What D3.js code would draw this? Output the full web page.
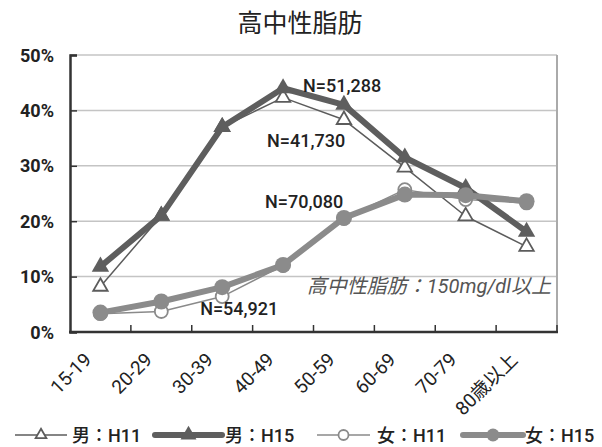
<!DOCTYPE html>
<html>
<head>
<meta charset="utf-8">
<script src="https://cdn.jsdelivr.net/npm/d3@7"></script>
<style>
  body { margin: 0; background: #fff; }
  text { font-family: Roboto, "Noto Sans CJK JP", sans-serif; fill: #222; }
</style>
</head>
<body>
<svg id="chart" width="602" height="447"></svg>
<script>
// age groups
let ages = ["15-19", "20-29", "30-39", "40-49", "50-59", "60-69", "70-79", "80歳以上"];

// percentages
let male_h11   = [8.2, 21.0, 37.0, 42.3, 38.3, 29.7, 20.9, 15.4];
let male_h15   = [11.8, 21.0, 37.0, 44.0, 41.0, 31.5, 26.0, 18.1];
let female_h11 = [3.3, 3.7, 6.4, 12.0, 20.5, 25.7, 23.9, 23.3];
let female_h15 = [3.5, 5.5, 8.1, 12.1, 20.6, 24.8, 24.7, 23.6];

let y_ticks = [0, 10, 20, 30, 40, 50];

// sample sizes, placed next to a point (value = baseline in %)
let notes = [
  {text: "N=51,288", age: "40-49", value: 43.3, dx: 20},
  {text: "N=41,730", age: "40-49", value: 33.4, dx: -16},
  {text: "N=70,080", age: "40-49", value: 22.4, dx: -18},
  {text: "N=54,921", age: "30-39", value: 3.1, dx: -22}
];

let width = 602,
    height = 447,
    margins = {top: 55, bottom: 115, left: 70, right: 45};

let svg = d3.select("#chart");

let x = d3.scaleBand()
  .domain(ages)
  .range([margins.left, width - margins.right]);

let y = d3.scaleLinear()
  .domain([0, 50])
  .range([height - margins.bottom, margins.top]);

let series = [
  {name: "男：H11", values: male_h11, shape: "tri", filled: false, stroke: "#5c5c5c", lw: 1.5},
  {name: "女：H11", values: female_h11, shape: "circle", filled: false, stroke: "#8a8a8a", lw: 1.5},
  {name: "男：H15", values: male_h15, shape: "tri", filled: true, stroke: "#5e5e5e", lw: 6},
  {name: "女：H15", values: female_h15, shape: "circle", filled: true, stroke: "#8b8b8b", lw: 6}
];

// title
svg.append("text")
  .attr("x", 300).attr("y", 32)
  .attr("text-anchor", "middle")
  .style("font-family", "'Noto Sans CJK JP'")
  .style("font-size", "25px")
  .style("font-weight", 400)
  .text("高中性脂肪");

// grid
svg.append("g")
  .selectAll("line")
  .data(y_ticks.filter(d => d > 0)).enter()
  .append("line")
  .attr("x1", x.range()[0]).attr("x2", x.range()[1])
  .attr("y1", d => y(d)).attr("y2", d => y(d))
  .attr("stroke", "#c4c4c4")
  .attr("stroke-width", 1.5);

// right border
svg.append("line")
  .attr("x1", x.range()[1]).attr("x2", x.range()[1])
  .attr("y1", y(50)).attr("y2", y(0))
  .attr("stroke", "#aaa").attr("stroke-width", 2);

// left axis
let y_axis = d3.axisRight(y)
  .tickValues(y_ticks)
  .tickSize(7)
  .tickFormat("");
svg.append("g")
  .attr("transform", `translate(${margins.left},0)`)
  .call(y_axis)
  .call(g => g.select(".domain").attr("stroke", "#333").attr("stroke-width", 2.5))
  .call(g => g.selectAll(".tick line").attr("stroke", "#333").attr("stroke-width", 1.5));

svg.append("g")
  .selectAll("text")
  .data(y_ticks).enter()
  .append("text")
  .attr("x", 54).attr("y", d => y(d) + 6.5)
  .attr("text-anchor", "end")
  .style("font-size", "18px")
  .style("font-weight", 700)
  .text(d => d + "%");

// bottom axis with ticks on the band edges
svg.append("line")
  .attr("x1", x.range()[0] - 1).attr("x2", x.range()[1] + 1)
  .attr("y1", y(0)).attr("y2", y(0))
  .attr("stroke", "#333").attr("stroke-width", 2.5);

svg.append("g")
  .selectAll("line")
  .data(ages).enter()
  .append("line")
  .attr("x1", d => x(d) + x.bandwidth()).attr("x2", d => x(d) + x.bandwidth())
  .attr("y1", y(0)).attr("y2", y(0) - 7)
  .attr("stroke", "#333").attr("stroke-width", 1.5);

svg.append("g")
  .selectAll("text")
  .data(ages).enter()
  .append("text")
  .attr("transform", d => `translate(${x(d) + x.bandwidth() / 2 - 8},361) rotate(-45)`)
  .attr("text-anchor", "end")
  .style("font-size", "19px")
  .text(d => d);

// lines
let cx = (d, i) => x(ages[i]) + x.bandwidth() / 2;
let line = d3.line()
  .x(cx)
  .y(d => y(d));

function marker(sel, s, size) {
  if (s.shape == "tri") {
    sel.append("path")
      .attr("d", d3.symbol(d3.symbolTriangle, size.tri))
      .attr("fill", s.filled ? s.stroke : "#fff")
      .attr("stroke", s.stroke)
      .attr("stroke-width", s.filled ? 0 : 1.8);
  } else {
    sel.append("circle")
      .attr("r", s.filled ? size.big : size.small)
      .attr("fill", s.filled ? s.stroke : "#fff")
      .attr("stroke", s.stroke)
      .attr("stroke-width", s.filled ? 0 : 1.8);
  }
}

series.forEach(s => {
  let g = svg.append("g");
  g.append("path")
    .datum(s.values)
    .attr("d", line)
    .attr("fill", "none")
    .attr("stroke", s.stroke)
    .attr("stroke-width", s.lw)
    .attr("stroke-linejoin", "round");

  let pts = g.selectAll("g.pt")
    .data(s.values).enter()
    .append("g")
    .attr("class", "pt")
    .attr("transform", (d, i) => `translate(${cx(d, i)},${y(d)})`);
  marker(pts, s, {tri: s.filled ? 130 : 90, big: 8, small: 6.5});
});

// N annotations
svg.append("g")
  .selectAll("text")
  .data(notes).enter()
  .append("text")
  .attr("x", d => x(d.age) + x.bandwidth() / 2 + d.dx)
  .attr("y", d => y(d.value))
  .style("font-size", "18px")
  .style("font-weight", 500)
  .text(d => d.text);

svg.append("text")
  .attr("x", 551).attr("y", 293)
  .attr("text-anchor", "end")
  .style("font-size", "20px")
  .style("font-style", "italic")
  .style("fill", "#555")
  .text("高中性脂肪：150mg/dl以上");

// legend
let legend_items = [
  {s: series[0], x0: 15, x1: 67, text_x: 72},
  {s: series[2], x0: 155, x1: 222, text_x: 225},
  {s: series[1], x0: 317, x1: 370, text_x: 377},
  {s: series[3], x0: 463, x1: 523, text_x: 525}
];

let ly = 435;
legend_items.forEach(item => {
  let g = svg.append("g");
  g.append("line")
    .attr("x1", item.x0).attr("x2", item.x1)
    .attr("y1", ly).attr("y2", ly)
    .attr("stroke", item.s.stroke)
    .attr("stroke-width", item.s.lw)
    .attr("stroke-linecap", item.s.filled ? "round" : "butt");
  let m = g.append("g")
    .attr("transform", `translate(${(item.x0 + item.x1) / 2},${ly})`);
  marker(m, item.s, {tri: item.s.filled ? 110 : 50, big: 6.5, small: 5});
  g.append("text")
    .attr("x", item.text_x).attr("y", ly + 7)
    .style("font-size", "18px")
    .style("font-weight", 500)
    .text(item.s.name);
});
</script>
</body>
</html>
